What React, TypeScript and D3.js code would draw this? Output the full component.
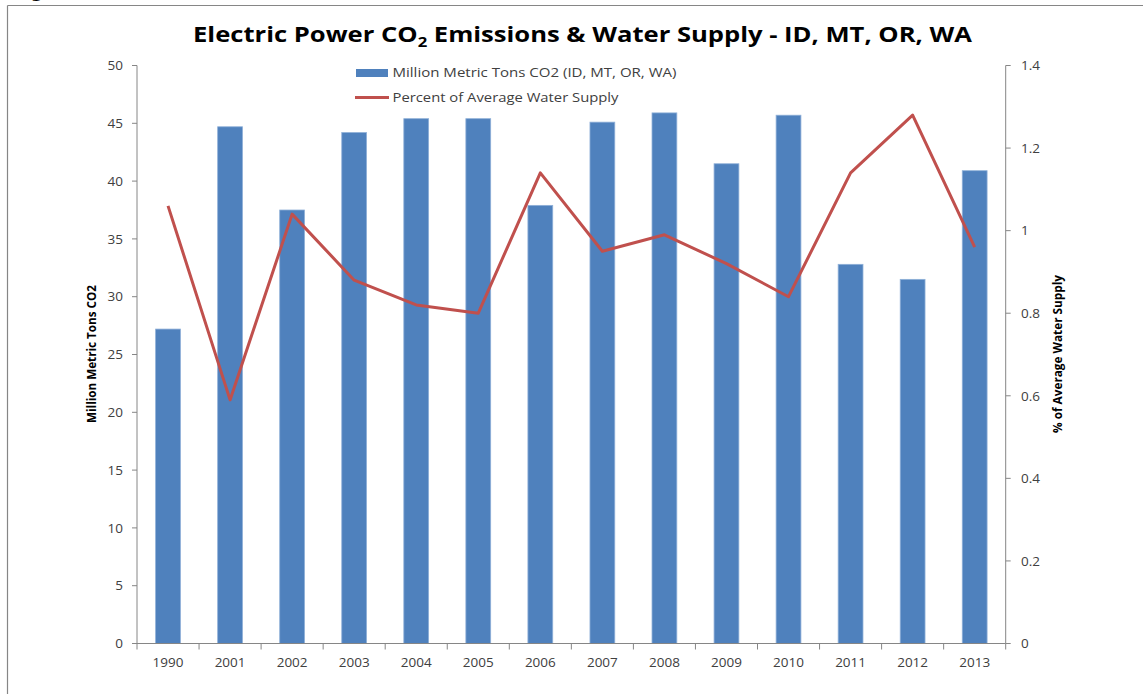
import React from "react";
import * as d3 from "d3";

const categories = ["1990", "2001", "2002", "2003", "2004", "2005", "2006", "2007", "2008", "2009", "2010", "2011", "2012", "2013"];
const co2Values = [27.2, 44.7, 37.5, 44.2, 45.4, 45.4, 37.9, 45.1, 45.9, 41.5, 45.7, 32.8, 31.5, 40.9];
const waterValues = [1.06, 0.59, 1.04, 0.88, 0.82, 0.8, 1.14, 0.95, 0.99, 0.92, 0.84, 1.14, 1.28, 0.96];
const leftTicks = [0, 5, 10, 15, 20, 25, 30, 35, 40, 45, 50];
const rightTicks = [0, 0.2, 0.4, 0.6, 0.8, 1, 1.2, 1.4];
const seriesNames = ["Million Metric Tons CO2 (ID, MT, OR, WA)", "Percent of Average Water Supply"];

const W = 1143;
const H = 694;
const BLUE = "#4F81BD";
const RED = "#C0504D";
const AXIS = "#868686";
const TXT = "#404040";
const FONT = "'Open Sans', sans-serif";

export default function App() {
  const x0 = 137;
  const x1 = 1005.7;
  const yBottom = 643.5;
  const yTop = 65.5;

  const x = d3.scaleBand<string>().domain(categories).range([x0, x1]).paddingInner(0.6).paddingOuter(0.3);
  const xb = d3.scaleBand<string>().domain(categories).range([x0, x1]).padding(0);
  const yL = d3.scaleLinear().domain([0, 50]).range([yBottom, yTop]);
  const yR = d3.scaleLinear().domain([0, 1.4]).range([yBottom, yTop]);

  const line = d3
    .line<number>()
    .x((_, i) => (x(categories[i]) as number) + x.bandwidth() / 2)
    .y((d) => yR(d));

  return (
    <svg
      width={W}
      height={H}
      style={{ position: "fixed", left: 0, top: 0, background: "#fff" }}
      fontFamily={FONT}
    >
      <rect x={0} y={0} width={W} height={H} fill="#fff" />
      {/* page fragment */}
      <text x={30} y={-3} fontSize={22} fontFamily="'DejaVu Sans', sans-serif" fill="#000">g</text>
      {/* chart frame */}
      <line x1={7.5} y1={5.5} x2={W} y2={5.5} stroke={AXIS} strokeWidth={1.2} />
      <line x1={7.5} y1={5.5} x2={7.5} y2={H} stroke={AXIS} strokeWidth={1.2} />

      {/* title */}
      <text x={193} y={42} fontSize={21.5} fontWeight="bold" fill="#000" textLength={779} lengthAdjust="spacingAndGlyphs">
        Electric Power CO<tspan fontSize={14} dy={5}>2</tspan>
        <tspan dy={-5}> Emissions &amp; Water Supply - ID, MT, OR, WA</tspan>
      </text>

      {/* bars */}
      {co2Values.map((v, i) => (
        <rect
          key={categories[i]}
          x={x(categories[i]) as number}
          y={yL(v)}
          width={x.bandwidth()}
          height={yBottom - yL(v)}
          fill={BLUE}
          stroke="#8fb0d8"
          strokeWidth={0.8}
        />
      ))}

      {/* axes */}
      <line x1={x0} y1={yTop} x2={x0} y2={yBottom} stroke={AXIS} />
      <line x1={x1} y1={yTop} x2={x1} y2={yBottom} stroke={AXIS} />
      <line x1={x0} y1={yBottom} x2={x1} y2={yBottom} stroke={AXIS} />

      {leftTicks.map((t) => (
        <g key={"l" + t}>
          <line x1={x0 - 5} x2={x0} y1={yL(t)} y2={yL(t)} stroke={AXIS} />
          <text x={123} y={yL(t)} dy="0.35em" textAnchor="end" fontSize={13.5} fill={TXT}>
            {t}
          </text>
        </g>
      ))}
      {rightTicks.map((t) => (
        <g key={"r" + t}>
          <line x1={x1} x2={x1 + 5} y1={yR(t)} y2={yR(t)} stroke={AXIS} />
          <text x={1021} y={yR(t)} dy="0.35em" textAnchor="start" fontSize={13.5} fill={TXT}>
            {d3.format("~g")(t)}
          </text>
        </g>
      ))}
      {categories.map((c, i) => (
        <line
          key={"xt" + c}
          x1={xb(c) as number}
          x2={xb(c) as number}
          y1={yBottom}
          y2={yBottom + 6}
          stroke={AXIS}
        />
      ))}
      <line x1={x1} x2={x1} y1={yBottom} y2={yBottom + 6} stroke={AXIS} />
      {categories.map((c) => (
        <text
          key={"xl" + c}
          x={(xb(c) as number) + xb.bandwidth() / 2}
          y={667}
          textAnchor="middle"
          fontSize={13.5}
          fill={TXT}
        >
          {c}
        </text>
      ))}

      {/* axis titles */}
      <text
        transform="translate(95.5,354) rotate(-90)"
        textAnchor="middle"
        fontSize={12.5}
        fontWeight="bold"
        fill="#000"
        textLength={138}
        lengthAdjust="spacingAndGlyphs"
      >
        Million Metric Tons CO2
      </text>
      <text
        transform="translate(1062,354) rotate(-90)"
        textAnchor="middle"
        fontSize={12.5}
        fontWeight="bold"
        fill="#000"
        textLength={158}
        lengthAdjust="spacingAndGlyphs"
      >
        % of Average Water Supply
      </text>

      {/* line */}
      <path d={line(waterValues) as string} fill="none" stroke={RED} strokeWidth={3} strokeLinejoin="round" />

      {/* legend */}
      <rect x={356} y={69} width={32} height={8} fill={BLUE} />
      <text x={392.5} y={77} fontSize={13.5} fill={TXT} textLength={284} lengthAdjust="spacingAndGlyphs">
        {seriesNames[0]}
      </text>
      <line x1={355} x2={389} y1={97.5} y2={97.5} stroke={RED} strokeWidth={3} />
      <text x={392.5} y={102} fontSize={13.5} fill={TXT} textLength={226} lengthAdjust="spacingAndGlyphs">
        {seriesNames[1]}
      </text>
    </svg>
  );
}
